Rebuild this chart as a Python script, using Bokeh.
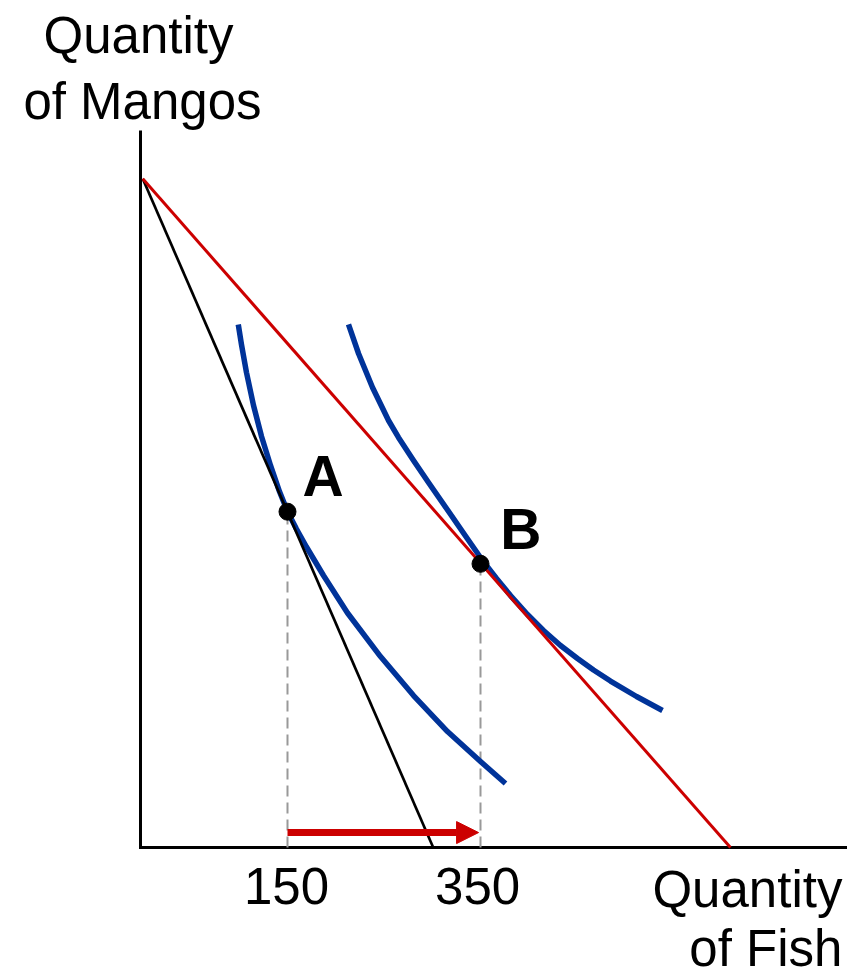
from bokeh.plotting import figure
from bokeh.models import Range1d, Arrow, NormalHead
from bokeh.core.properties import value
from bokeh.embed import file_html
from bokeh.resources import INLINE

# ---- data ----
fish_ticks = [150, 350]
fish_tick_labels = ["150", "350"]
mango_intercept = 693          # both budget lines start here on the mango axis
fish_intercept_old = 301       # black budget line
fish_intercept_new = 609       # red budget line

ic1_fish = [99, 102.3, 107.5, 114.8, 123.1, 132.4, 141.7, 150, 159.3, 169.7, 187.3,
            212.2, 246.4, 280.6, 315.8, 350, 375.9]
ic1_mango = [542, 521.2, 492.2, 458, 425.9, 395.9, 368.9, 348.2, 330.1, 311.4, 281.9,
             243, 197.9, 157.5, 120.2, 89.1, 66.3]

ic2_fish = [213.2, 223.6, 238.1, 254.7, 265.0, 280.6, 296.1, 314.8, 333.4, 352.1, 366.6,
            381.1, 398.7, 415.3, 432.9, 450.5, 467.1, 484.7, 511.7, 538.6]
ic2_mango = [542.0, 511.9, 476.7, 442.5, 424.9, 401.0, 378.2, 351.3, 324.4, 297.4, 278.8,
             261.1, 241.5, 224.9, 209.3, 195.9, 183.9, 172.5, 156.5, 142.0]

point_names = ["A", "B"]
point_fish = [150, 350]
point_mango = [348, 294]

# axis extents (data units)
fish_axis = [-2.3, 730.3]
mango_axis = [0, 743]

RED = "#CC0000"
BLUE = "#003399"
FONT = "Liberation Sans"

p = figure(width=847, height=975,
           x_range=Range1d(-147.4, 730.3), y_range=Range1d(-132.6, 877.7),
           output_backend="svg", toolbar_location=None,
           x_axis_location=None, y_axis_location=None,
           min_border=0, min_border_left=0, min_border_right=0,
           min_border_top=0, min_border_bottom=0)
p.outline_line_color = None
p.xgrid.visible = False
p.ygrid.visible = False
p.background_fill_color = "white"
p.border_fill_color = "white"

# axes
p.line([fish_axis[0], fish_axis[0], fish_axis[1]],
       [mango_axis[1], mango_axis[0], mango_axis[0]],
       line_color="black", line_width=3, line_join="miter")
p.text(x=[149, 347], y=[-40, -40], text=fish_tick_labels,
       text_font=value(FONT), text_font_size="51px", text_align="center",
       text_baseline="alphabetic", text_color="black")

# dashed guide lines
p.segment(x0=point_fish, y0=[0, 0], x1=point_fish, y1=point_mango,
          line_color="#999999", line_width=2, line_dash="11 6")

# indifference curves
p.line(ic1_fish, ic1_mango, line_color=BLUE, line_width=5.5, line_join="round")
p.line(ic2_fish, ic2_mango, line_color=BLUE, line_width=5.5, line_join="round")

# budget lines
p.line([0, fish_intercept_old], [mango_intercept, 0], line_color="black", line_width=2.7)
p.line([0, fish_intercept_new], [mango_intercept, 0], line_color=RED, line_width=3)

# points
p.scatter(point_fish, point_mango, size=17, color="black")
p.text(x=[165.5, 370.5], y=[385.5, 330.5], text=point_names,
       text_font=value(FONT), text_font_style="bold", text_font_size="57px",
       text_align="left", text_baseline="alphabetic", text_color="black")

# arrow (shift of the optimum from A to B)
p.add_layout(Arrow(end=NormalHead(size=22, fill_color=RED, line_color=RED),
                   x_start=point_fish[0], y_start=15.5, x_end=348, y_end=15.5,
                   line_color=RED, line_width=7))

# axis titles
p.text(x=[-4.4, -0.3], y=[841.5, 773], text=["Quantity", "of Mangos"],
       text_font=value(FONT), text_font_size="51px", text_align="center",
       text_baseline="alphabetic", text_color="black")
p.text(x=[725, 725], y=[-43, -105], text=["Quantity", "of Fish"],
       text_font=value(FONT), text_font_size="51px", text_align="right",
       text_baseline="alphabetic", text_color="black")

open("out.html", "w").write(file_html(p, INLINE))
